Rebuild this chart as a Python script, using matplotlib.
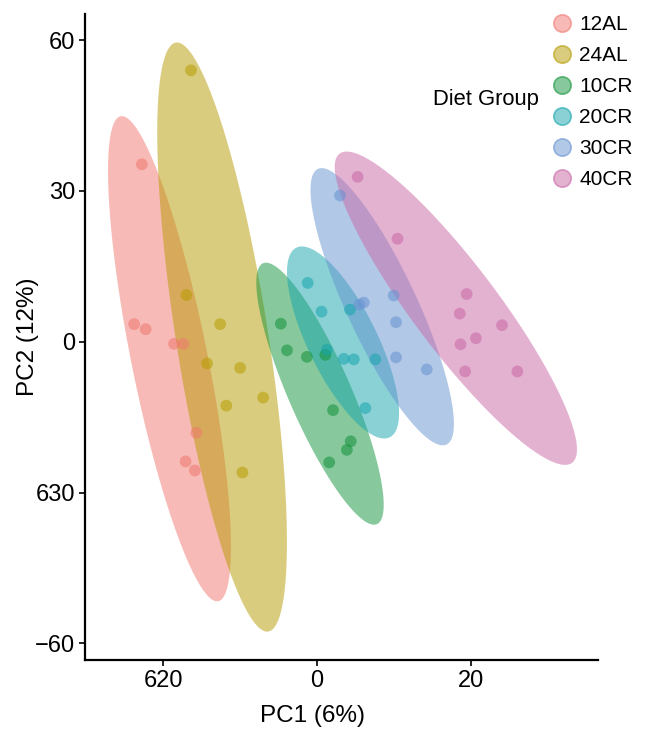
import numpy as np
import matplotlib
matplotlib.use("Agg")
import matplotlib.pyplot as plt
from matplotlib.patches import Polygon
from matplotlib.lines import Line2D

plt.rcParams['font.family'] = ['Liberation Sans', 'DejaVu Sans']

# PCA scores, one pair of arrays per diet group
groups = ["12AL", "24AL", "10CR", "20CR", "30CR", "40CR"]
colors = ["#F1776F", "#B79B00", "#11933A", "#15A5AD", "#6793D1", "#C967A5"]

pc1_12al = [-22.8, -23.8, -22.3, -18.6, -17.4, -15.7, -17.1, -15.9]
pc2_12al = [35.3, 3.5, 2.5, -0.4, -0.4, -18.1, -23.8, -25.6]

pc1_24al = [-16.4, -17.0, -12.6, -14.3, -10.0, -7.0, -11.8, -9.7]
pc2_24al = [54.0, 9.3, 3.5, -4.3, -5.2, -11.1, -12.7, -26.0]

pc1_10cr = [-4.7, -3.9, -1.3, 1.1, 2.1, 4.4, 3.9, 1.6]
pc2_10cr = [3.6, -1.7, -3.0, -2.6, -13.6, -19.8, -21.5, -24.0]

pc1_20cr = [-1.2, 0.6, 4.3, 1.3, 3.5, 4.8, 7.6, 6.3]
pc2_20cr = [11.7, 6.0, 6.4, -1.6, -3.4, -3.5, -3.5, -13.2]

pc1_30cr = [3.0, 5.5, 6.1, 10.0, 10.3, 10.3, 14.3]
pc2_30cr = [29.1, 7.4, 7.8, 9.2, 3.9, -3.1, -5.5]

pc1_40cr = [5.3, 10.5, 19.5, 18.6, 24.1, 20.7, 18.7, 19.3, 26.1]
pc2_40cr = [32.8, 20.5, 9.5, 5.6, 3.3, 0.7, -0.5, -5.9, -5.9]

pc1 = [pc1_12al, pc1_24al, pc1_10cr, pc1_20cr, pc1_30cr, pc1_40cr]
pc2 = [pc2_12al, pc2_24al, pc2_10cr, pc2_20cr, pc2_30cr, pc2_40cr]

xticks = [-20, 0, 20]
xtick_labels = ["620", "0", "20"]
yticks = [-60, -30, 0, 30, 60]
ytick_labels = ["\u221260", "630", "0", "30", "60"]


def ellipse_path(xs, ys, prob=0.95, segments=100):
    # normal-theory ellipse: group covariance scaled by sqrt(qchisq(prob, 2))
    data = np.column_stack([xs, ys])
    sigma = np.cov(data, rowvar=False)
    mu = data.mean(axis=0)
    ed = np.sqrt(-2 * np.log(1 - prob))
    t = np.linspace(-np.pi, np.pi, segments)
    circle = np.column_stack([np.cos(t), np.sin(t)])
    chol = np.linalg.cholesky(sigma).T
    return mu + ed * circle @ chol


fig = plt.figure(figsize=(6.46, 7.29), dpi=100)
ax = fig.add_axes([85 / 646, 1 - 660 / 729, 513 / 646, 646 / 729])

for xs, ys, c in zip(pc1, pc2, colors):
    ax.add_patch(Polygon(ellipse_path(xs, ys), closed=True, facecolor=c,
                         alpha=0.5, edgecolor="none", zorder=1))
for xs, ys, c in zip(pc1, pc2, colors):
    ax.scatter(xs, ys, s=72, color=c, alpha=0.55, edgecolors="none", zorder=2)

ax.set_xlim(-30.2, 36.6)
ax.set_ylim(-63.3, 65.2)
ax.set_xticks(xticks)
ax.set_xticklabels(xtick_labels)
ax.set_yticks(yticks)
ax.set_yticklabels(ytick_labels)
ax.tick_params(labelsize=17, length=4, width=1.2, colors="black", pad=3)
for side in ["top", "right"]:
    ax.spines[side].set_visible(False)
for side in ["left", "bottom"]:
    ax.spines[side].set_linewidth(1.6)

ax.set_xlabel("PC1 (6%)", fontsize=17.5)
ax.set_ylabel("PC2 (12%)", fontsize=17.5)
ax.xaxis.set_label_coords((312 - 85) / 513, -0.07)
ax.yaxis.set_label_coords(-0.089, 0.5)

handles = [Line2D([], [], linestyle="none", marker="o", markersize=12.5,
                  markerfacecolor=matplotlib.colors.to_rgba(c, 0.5),
                  markeredgecolor=matplotlib.colors.to_rgba(c, 0.6),
                  markeredgewidth=1.2) for c in colors]
fig.legend(handles, groups, loc="upper left", bbox_to_anchor=(552 / 646, 1 - 15 / 729),
           frameon=False, fontsize=15, handlelength=1.0, handletextpad=0.3,
           borderpad=0, borderaxespad=0, labelspacing=0.58)
fig.text(433 / 646, 1 - 100 / 729, "Diet Group", fontsize=15.8, va="center", ha="left")

fig.savefig("out.png", dpi=100)
